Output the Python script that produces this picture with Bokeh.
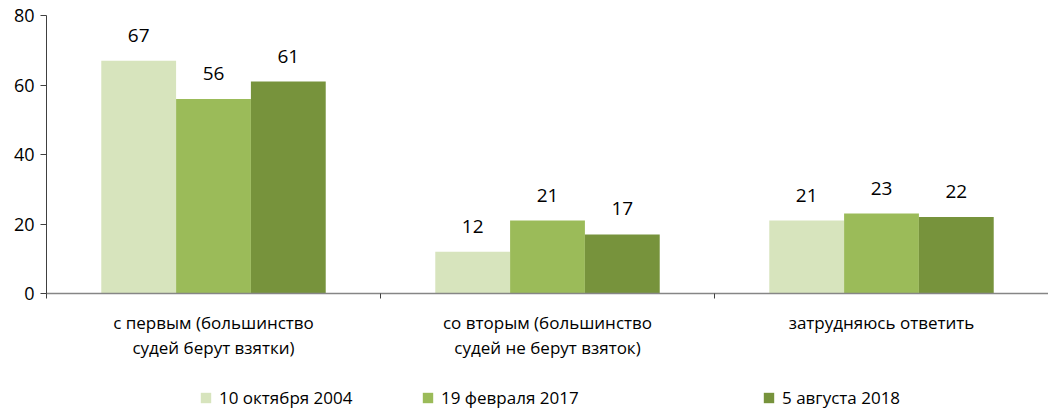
from bokeh.plotting import figure
from bokeh.layouts import column
from bokeh.models import (FactorRange, Range1d, LinearAxis, CategoricalAxis, FixedTicker,
                          ColumnDataSource, Legend, LegendItem)
from bokeh.transform import dodge
from bokeh.core.properties import value
from bokeh.embed import file_html
from bokeh.resources import INLINE

categories = ["с первым (большинство\nсудей берут взятки)",
              "со вторым (большинство\nсудей не берут взяток)",
              "затрудняюсь ответить"]
series_names = ["10 октября 2004", "19 февраля 2017", "5 августа 2018"]
s2004 = [67, 12, 21]
s2017 = [56, 21, 23]
s2018 = [61, 17, 22]
colors = ["#d7e4bd", "#9bbb59", "#77933c"]
y_ticks = [0, 20, 40, 60, 80]

FONT = "Open Sans"

src = ColumnDataSource(dict(cat=categories, a=s2004, b=s2017, c=s2018,
                            la=[str(v) for v in s2004],
                            lb=[str(v) for v in s2017],
                            lc=[str(v) for v in s2018]))

p = figure(width=1048, height=374, x_range=FactorRange(factors=categories),
           y_range=Range1d(0, 80), output_backend="svg", toolbar_location=None,
           x_axis_location=None, y_axis_location=None)
p.min_border_left = 46
p.min_border_right = 0
p.min_border_top = 15
p.min_border_bottom = 81
p.outline_line_color = None
p.grid.visible = False
p.background_fill_color = "white"
p.border_fill_color = "white"

# y axis
yax = LinearAxis(ticker=FixedTicker(ticks=y_ticks))
yax.axis_line_color = "#404040"
yax.major_tick_line_color = "#404040"
yax.major_tick_out = 6
yax.major_tick_in = 0
yax.minor_tick_line_color = None
yax.major_label_text_font = FONT
yax.major_label_text_font_size = "18px"
yax.major_label_text_color = "black"
yax.major_label_standoff = 6
p.add_layout(yax, "left")

# x axis: boundary ticks between categories (synthetic coordinates 0..3)
bax = LinearAxis(ticker=FixedTicker(ticks=[0, 1, 2, 3]))
bax.axis_line_color = "#868686"
bax.axis_line_width = 1.5
bax.major_tick_line_color = "#404040"
bax.major_tick_out = 5
bax.major_tick_in = 0
bax.minor_tick_line_color = None
bax.major_label_text_font_size = "0px"
bax.major_label_text_color = None
bax.major_label_standoff = 0
p.add_layout(bax, "below")

# x axis: category labels
cax = CategoricalAxis()
cax.axis_line_color = None
cax.major_tick_line_color = None
cax.minor_tick_line_color = None
cax.major_label_text_font = FONT
cax.major_label_text_font_size = "17px"
cax.major_label_text_color = "black"
cax.major_label_standoff = 6
cax.major_label_text_line_height = 1.12
p.add_layout(cax, "below")

w = 0.224
offs = [-w, 0.0, w]
for col, lab, off, c in zip(["a", "b", "c"], ["la", "lb", "lc"], offs, colors):
    p.vbar(x=dodge("cat", off, range=p.x_range), top=col, width=w, bottom=0,
           source=src, fill_color=c, line_color=None)
    p.text(x=dodge("cat", off, range=p.x_range), y=col, text=lab, source=src,
           text_align="center", text_baseline="bottom", y_offset=-19,
           text_font=value(FONT), text_font_size="19px", text_color="black")

# legend strip (zero-size proxy glyphs carry the legend colours)
lp = figure(width=1048, height=40, x_range=Range1d(0, 1), y_range=Range1d(0, 1),
            output_backend="svg", toolbar_location=None,
            x_axis_location=None, y_axis_location=None)
lp.min_border_left = 0
lp.min_border_right = 0
lp.min_border_top = 0
lp.min_border_bottom = 0
lp.outline_line_color = None
lp.grid.visible = False

proxy = ColumnDataSource(dict(x=[0.0], top=[0.0]))
legend_x = [153, 375, 716]
for name, c, lx in zip(series_names, colors, legend_x):
    r = lp.vbar(x="x", top="top", bottom=0, width=0.0, source=proxy,
                fill_color=c, line_color=None)
    lg = Legend(items=[LegendItem(label=name, renderers=[r])], location=(lx, 5))
    lg.orientation = "horizontal"
    lg.border_line_color = None
    lg.background_fill_alpha = 0
    lg.padding = 0
    lg.margin = 0
    lg.glyph_width = 13
    lg.glyph_height = 13
    lg.label_standoff = 7
    lg.label_text_font = FONT
    lg.label_text_font_size = "17px"
    lg.label_text_color = "black"
    lp.add_layout(lg, "center")

open("out.html", "w").write(file_html(column(p, lp), INLINE))
